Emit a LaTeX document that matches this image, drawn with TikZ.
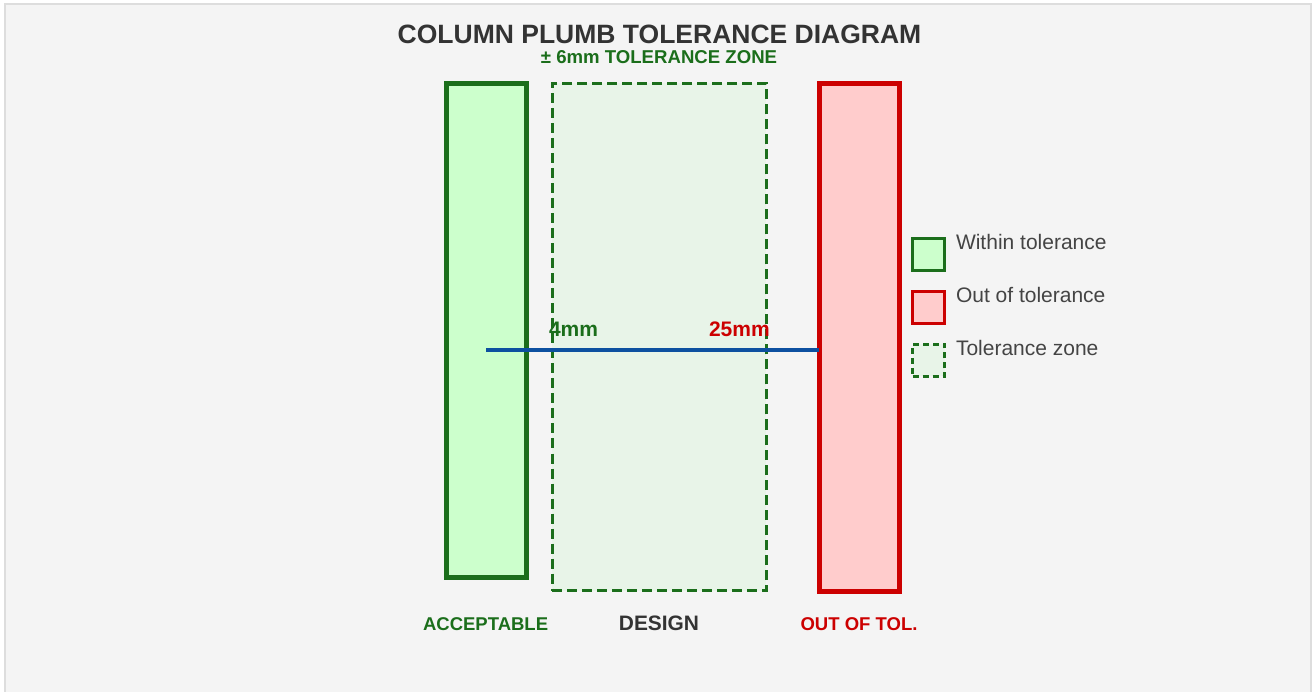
\documentclass[tikz,border=0pt]{standalone}
\usepackage{fontspec}
\setmainfont{Liberation Sans}
\usetikzlibrary{positioning}
\definecolor{okgreen}{HTML}{1B6E1B}
\definecolor{okfill}{HTML}{CCFFCC}
\definecolor{zonefill}{HTML}{E8F4E8}
\definecolor{badred}{HTML}{CC0000}
\definecolor{badfill}{HTML}{FFCCCC}
\definecolor{measblue}{HTML}{0D50A0}
\definecolor{pagebg}{HTML}{F4F4F4}
\definecolor{framegray}{HTML}{DDDDDD}
\definecolor{inkgray}{HTML}{333333}
\definecolor{legendgray}{HTML}{444444}
\newcommand{\sz}[1]{\fontsize{#1}{#1}\selectfont}

\begin{document}
\begin{tikzpicture}[x=1pt,y=-1pt,
 every node/.style={inner sep=0pt,outer sep=0pt},
 column/.style={draw,rectangle,line width=5pt,minimum width=80pt},
 zone/.style={draw=okgreen,fill=zonefill,line width=3pt,dash pattern=on 10pt off 5pt,
  minimum width=214pt,minimum height=507pt},
 legbox/.style={rectangle,line width=2.5pt,minimum width=32pt,minimum height=32pt},
 legtext/.style={anchor=base west,text=legendgray,font=\sz{21}},
 tag/.style={anchor=base,font=\sz{18.5}\bfseries},
 measure/.style={draw=measblue,line width=4pt}]
\useasboundingbox (0,0) rectangle (1312,692);
\fill[white] (0,0) rectangle (1312,692);
\draw[framegray,fill=pagebg,line width=2pt] (5,4) rectangle (1311,720);

% heading
\node[anchor=base,text=inkgray,font=\sz{26.5}\bfseries] (title) at (659.5,44)
 {COLUMN PLUMB TOLERANCE DIAGRAM};
\node[anchor=base,text=okgreen,font=\sz{18.6}\bfseries] (subtitle) at (659,63.5)
 {± 6mm TOLERANCE ZONE};

% columns
\node[zone] (design) at (659,337) {};
\node[column,draw=okgreen,fill=okfill,minimum height=493pt] (acc) at (486,330.5) {};
\node[column,draw=badred,fill=badfill,minimum height=507pt] (out) at (859.25,337.5) {};

% offset line
\coordinate (lvl) at (0,350);
\draw[measure] (acc.center |- lvl) -- (out.west |- lvl);
\node[anchor=base west,text=okgreen,font=\sz{21}\bfseries] (offacc) at (549,336.5) {4mm};
\node[anchor=base west,text=badred,font=\sz{21}\bfseries] (offout) at (709,336.5) {25mm};

% captions
\node[tag,text=okgreen] (accname) at (485.6,630.5) {ACCEPTABLE};
\node[tag,text=inkgray,font=\sz{20.9}\bfseries] (designname) at (659,630.5) {DESIGN};
\node[tag,text=badred] (outname) at (859,630.5) {OUT OF TOL.};

% legend
\node[legbox,draw=okgreen,fill=okfill] (leg1) at (928.5,254.5) {};
\node[legbox,draw=badred,fill=badfill,below=21pt of leg1] (leg2) {};
\node[legbox,draw=okgreen,fill=zonefill,dash pattern=on 6pt off 4pt,below=21pt of leg2] (leg3) {};
\node[legtext] (leg1text) at (956,249.3) {Within tolerance};
\node[legtext] (leg2text) at (956,302.7) {Out of tolerance};
\node[legtext] (leg3text) at (956,356) {Tolerance zone};
\end{tikzpicture}
\end{document}
